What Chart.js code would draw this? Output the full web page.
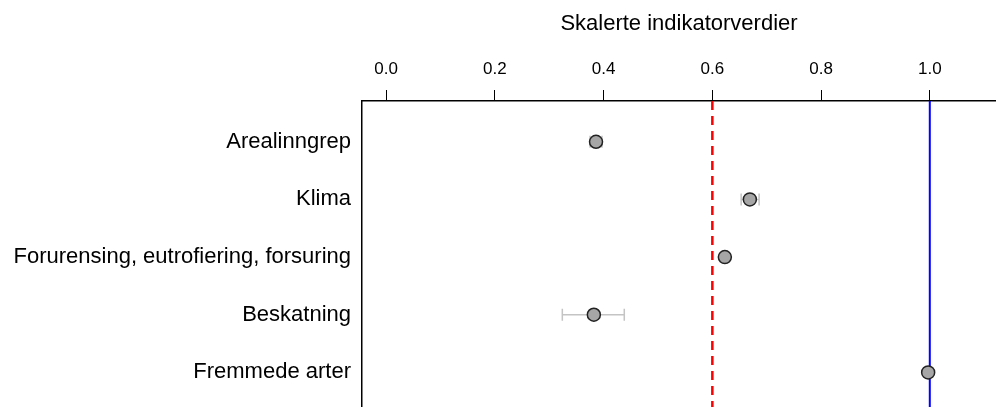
<!DOCTYPE html>
<html>
<head>
<meta charset="utf-8">
<script src="https://cdn.jsdelivr.net/npm/chart.js@4/dist/chart.umd.min.js"></script>
<style>
  html, body { margin: 0; padding: 0; background: #fff; }
  #wrap { width: 996px; height: 407px; }
</style>
</head>
<body>
<div id="wrap"><canvas id="dot-chart"></canvas></div>
<script>
// Indicators (top to bottom)
const categories = [
    'Arealinngrep',
    'Klima',
    'Forurensing, eutrofiering, forsuring',
    'Beskatning',
    'Fremmede arter'
];
const values = [0.386, 0.669, 0.623, 0.382, 0.997];
const lowerBounds = [0.375, 0.653, 0.620, 0.324, 0.995];
const upperBounds = [0.397, 0.686, 0.626, 0.438, 0.999];
const xTicks = [0.0, 0.2, 0.4, 0.6, 0.8, 1.0];
const referenceLine = 0.6;
const targetLine = 1.0;

const yMin = -0.707;
const yMax = 4.6;

const fontFamily = '"Liberation Sans", Arial, Helvetica, sans-serif';

// draw the horizontal error bars through the chart scales
const errorBarPlugin = {
    id: 'errorBars',
    beforeDatasetsDraw(chart) {
        const ctx = chart.ctx;
        const xs = chart.scales.x;
        const ys = chart.scales.y;
        ctx.save();
        ctx.strokeStyle = '#c4c4c4';
        ctx.lineWidth = 1.5;
        categories.forEach((c, i) => {
            const y = ys.getPixelForValue(i);
            const x1 = xs.getPixelForValue(lowerBounds[i]);
            const x2 = xs.getPixelForValue(upperBounds[i]);
            ctx.beginPath();
            ctx.moveTo(x1, y);
            ctx.lineTo(x2, y);
            ctx.moveTo(x1, y - 6);
            ctx.lineTo(x1, y + 6);
            ctx.moveTo(x2, y - 6);
            ctx.lineTo(x2, y + 6);
            ctx.stroke();
        });
        ctx.restore();
    }
};

const points = values.map((v, i) => ({ x: v, y: i }));

new Chart(document.getElementById('dot-chart'), {
    type: 'scatter',
    data: {
        datasets: [
            {
                type: 'line',
                data: [{ x: referenceLine, y: yMin }, { x: referenceLine, y: yMax }],
                borderColor: '#ff0000',
                borderWidth: 2.5,
                borderDash: [9, 6],
                pointRadius: 0,
                fill: false,
                order: 3
            },
            {
                type: 'line',
                data: [{ x: targetLine, y: yMin }, { x: targetLine, y: yMax }],
                borderColor: '#0000ff',
                borderWidth: 2,
                pointRadius: 0,
                fill: false,
                order: 2
            },
            {
                data: points,
                pointRadius: 6.5,
                pointHoverRadius: 6.5,
                backgroundColor: '#a6a6a6',
                borderColor: '#222222',
                borderWidth: 1.5,
                order: 1
            }
        ]
    },
    options: {
        responsive: true,
        maintainAspectRatio: false,
        animation: false,
        layout: { padding: 0, autoPadding: false },
        plugins: {
            legend: { display: false },
            tooltip: { enabled: false }
        },
        scales: {
            x: {
                type: 'linear',
                position: 'top',
                min: -0.0445,
                max: 1.1218,
                afterBuildTicks: (scale) => {
                    scale.ticks = xTicks.map(v => ({ value: v }));
                },
                afterFit: (scale) => {
                    scale.height = 101;
                    scale.paddingLeft = 0;
                    scale.paddingRight = 0;
                },
                ticks: {
                    color: '#000',
                    font: { family: fontFamily, size: 17 },
                    padding: 10,
                    maxRotation: 0,
                    callback: (v) => Number(v).toFixed(1)
                },
                grid: {
                    drawOnChartArea: false,
                    drawTicks: true,
                    tickLength: 11,
                    color: '#000',
                    lineWidth: 1
                },
                border: { display: true, color: '#000', width: 1.5 },
                title: {
                    display: true,
                    text: 'Skalerte indikatorverdier',
                    color: '#000',
                    font: { family: fontFamily, size: 22 },
                    padding: { top: 11, bottom: 0 }
                }
            },
            y: {
                type: 'linear',
                reverse: true,
                min: yMin,
                max: yMax,
                afterBuildTicks: (scale) => {
                    scale.ticks = categories.map((c, i) => ({ value: i }));
                },
                afterFit: (scale) => {
                    scale.width = 362;
                    scale.paddingTop = 0;
                    scale.paddingBottom = 0;
                },
                ticks: {
                    color: '#000',
                    font: { family: fontFamily, size: 22 },
                    padding: 11,
                    callback: (v) => categories[v]
                },
                grid: {
                    drawOnChartArea: false,
                    drawTicks: false
                },
                border: { display: true, color: '#000', width: 1.5 }
            }
        }
    },
    plugins: [errorBarPlugin]
});
</script>
</body>
</html>
